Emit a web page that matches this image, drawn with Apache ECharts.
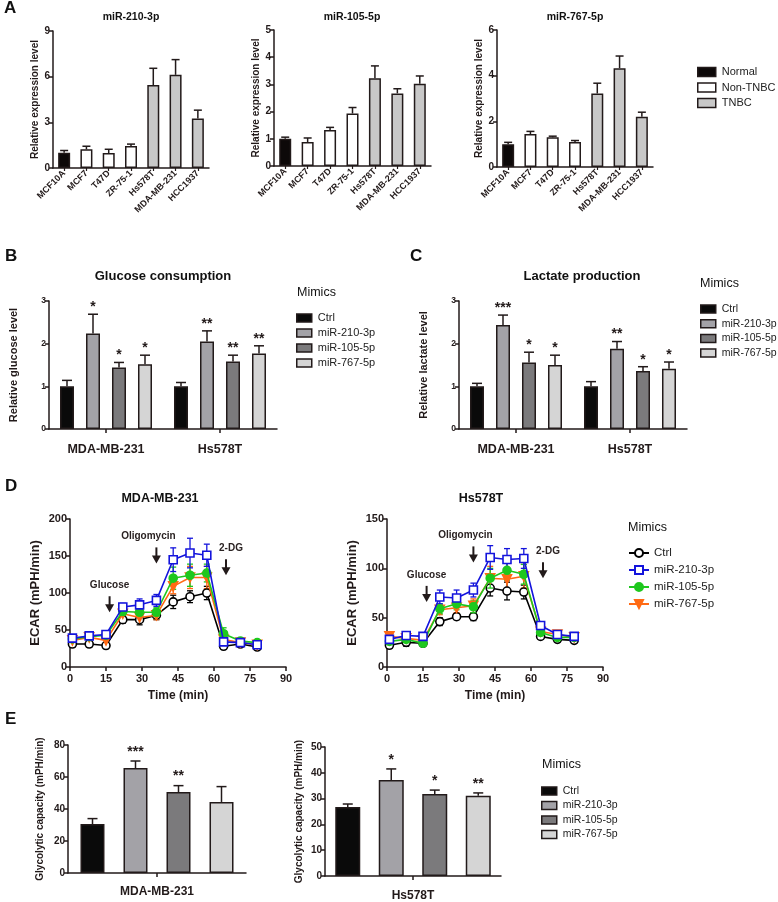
<!DOCTYPE html>
<html><head><meta charset="utf-8">
<script src="https://cdn.jsdelivr.net/npm/echarts@6/dist/echarts.min.js"></script>
<style>html,body{margin:0;padding:0;background:#fff}#c{width:778px;height:902px}</style>
</head><body><div id="c"></div>
<script>
// ---------------- DATA ----------------
// Panel A
const aCategories = ['MCF10A','MCF7','T47D','ZR-75-1','Hs578T','MDA-MB-231','HCC1937'];
const aGroupOf = ['Normal','Non-TNBC','Non-TNBC','Non-TNBC','TNBC','TNBC','TNBC'];
const aGroupNames = ['Normal','Non-TNBC','TNBC'];
const aMiRNAs = ['miR-210-3p','miR-105-5p','miR-767-5p'];
const a210Values = [1.0,1.23,0.98,1.45,5.45,6.12,3.25];
const a210Errors = [0.15,0.2,0.25,0.12,1.1,1.0,0.55];
const a105Values = [1.0,0.88,1.32,1.93,3.23,2.67,3.02];
const a105Errors = [0.06,0.15,0.1,0.22,0.45,0.17,0.29];
const a767Values = [1.0,1.44,1.3,1.1,3.22,4.33,2.2];
const a767Errors = [0.08,0.12,0.05,0.06,0.45,0.53,0.2];
const aYMax = [9,5,6];
const aYInterval = [3,1,2];

// Panels B, C, E
const mimics = ['Ctrl','miR-210-3p','miR-105-5p','miR-767-5p'];
const cellLines = ['MDA-MB-231','Hs578T'];
const glucoseMeans  = [[1.0,1.0],[2.24,2.05],[1.44,1.58],[1.52,1.77]];
const glucoseErrors = [[0.14,0.09],[0.45,0.25],[0.12,0.15],[0.21,0.18]];
const glucoseStars  = [['',''],['*','**'],['*','**'],['*','**']];
const lactateMeans  = [[1.0,1.0],[2.44,1.88],[1.56,1.36],[1.5,1.41]];
const lactateErrors = [[0.07,0.11],[0.23,0.17],[0.24,0.1],[0.23,0.16]];
const lactateStars  = [['',''],['***','**'],['*','*'],['*','*']];
const capacityMDA = [30.6,65.6,50.6,44.4];
const capacityMDAErr = [3.4,4.4,4.0,9.6];
const capacityMDAStars = ['','***','**',''];
const capacityHs = [26.7,37.2,31.8,31.1];
const capacityHsErr = [1.2,4.3,1.5,1.1];
const capacityHsStars = ['','*','*','**'];

// Panel D
const timePoints = [1,8,15,22,29,36,43,50,57,64,71,78];
const ecarMDA = [
  [31,31,29,64,64,70,88,95,100,28,31,27],
  [39,42,44,81,84,90,145,154,151,34,33,30],
  [38,41,43,75,74,74,120,124,127,45,35,33],
  [36,40,36,72,67,70,109,121,121,37,33,30]];
const ecarMDAErr = [
  [4,4,4,5,7,6,9,8,9,3,3,3],
  [4,4,4,5,8,8,16,20,15,4,4,3],
  [3,3,3,5,6,6,15,15,12,8,4,3],
  [3,3,5,5,6,6,10,15,15,4,3,3]];
const ecarHs = [
  [22,25,24,46,51,51,80,77,76,31,28,27],
  [28,32,31,71,70,78,111,109,110,42,33,31],
  [26,28,24,59,64,61,90,98,94,35,30,30],
  [31,29,27,58,60,62,90,89,92,36,33,30]];
const ecarHsErr = [
  [3,4,3,4,3,4,8,9,7,3,2,2],
  [3,3,3,7,8,7,12,11,10,3,2,2],
  [3,3,3,5,6,6,10,10,10,3,3,2],
  [3,3,3,5,5,7,12,10,12,3,3,3]];
const injections = ['Glucose','Oligomycin','2-DG'];
const injectionTimes = [16.5,36,65];
const arrowTipMDA = [74,140,124];
const arrowTipHs = [66,106,90];

// ---------------- STYLE ----------------
const FONT = "'Liberation Sans', Arial, Helvetica, sans-serif";
const INK = '#221a1a';
const aGroupColors = ['#0d0909','#ffffff','#c8c8c8'];
const mimicColors = ['#0a0a0a','#a3a2a7','#7b7a7c','#d5d5d5'];
const lineColors = ['#000000','#1414dc','#1ec81e','#ff6a14'];
const lineSymbols = ['circle','rect','circle','triangle'];
const labelShift = [0,-8,5];

const grids = [
  {left:53, top:31, width:156, height:137},
  {left:274, top:30, width:157, height:136},
  {left:497, top:30, width:156, height:137},
  {left:49, top:301, width:228, height:128},
  {left:459, top:301, width:228, height:128},
  {left:70, top:519, width:216, height:148},
  {left:387, top:519, width:216, height:148},
  {left:68, top:745, width:178, height:128},
  {left:325, top:747, width:176, height:129}
];

const axisLine = {show:true, lineStyle:{color:INK, width:1.5}};
const axisTick = {show:true, length:4, lineStyle:{color:INK, width:1.5}};

function yAx(gi, max, interval, name, nameGap, nameSize, labelSize) {
  return {type:'value', gridIndex:gi, min:0, max, interval, splitLine:{show:false},
    axisLine, axisTick,
    axisLabel:{fontFamily:FONT, fontWeight:'bold', fontSize:labelSize, color:INK, margin:3},
    name, nameLocation:'middle', nameGap,
    nameTextStyle:{fontFamily:FONT, fontWeight:'bold', fontSize:nameSize, color:INK}};
}
function xCat(gi, data, opts) {
  return Object.assign({type:'category', gridIndex:gi, data, axisLine,
    axisTick:{show:true, alignWithLabel:true, length:4, lineStyle:{color:INK, width:1.5}},
    splitLine:{show:false}}, opts);
}

const xAxes = [], yAxes = [], series = [];

// ---- Panel A
const aValues = [a210Values, a105Values, a767Values];
const aErrors = [a210Errors, a105Errors, a767Errors];
aMiRNAs.forEach((mi, k) => {
  xAxes.push(xCat(k, aCategories, {
    axisTick:{show:true, alignWithLabel:true, length:3, lineStyle:{color:INK, width:1.2}},
    axisLabel:{rotate:45, interval:0, fontFamily:FONT, fontWeight:'bold', fontSize:9, color:INK, margin:4}}));
  yAxes.push(yAx(k, aYMax[k], aYInterval[k], 'Relative expression level', 13, 10, 10));
});

function barErrorSeries(ai, data, offset, stars, cap, starFont, starGap) {
  return {type:'custom', xAxisIndex:ai, yAxisIndex:ai, data, z:5, silent:true,
    renderItem(params, api) {
      const x = api.value(0), v = api.value(1), e = api.value(2);
      const p0 = api.coord([x, v]), p1 = api.coord([x, v + e]);
      const cx = p0[0] + offset;
      const st = {stroke:INK, lineWidth:1.5};
      const ch = [
        {type:'line', shape:{x1:cx, y1:p0[1], x2:cx, y2:p1[1]}, style:st},
        {type:'line', shape:{x1:cx-cap, y1:p1[1], x2:cx+cap, y2:p1[1]}, style:st}];
      const s = stars && stars[params.dataIndex];
      if (s) ch.push({type:'text', x:cx, y:p1[1]-starGap,
        style:{text:s, font:starFont, fill:INK, textAlign:'center', textVerticalAlign:'middle'}});
      return {type:'group', children:ch};
    }};
}

aMiRNAs.forEach((mi, k) => {
  aGroupNames.forEach((g, gi) => {
    series.push({type:'bar', name:g, xAxisIndex:k, yAxisIndex:k, barWidth:12, barGap:'-100%',
      data: aValues[k].map((v, i) => aGroupOf[i] === g ? v : '-'),
      itemStyle:{color:aGroupColors[gi], borderColor:INK, borderWidth:1.5}});
  });
  series.push(barErrorSeries(k, aCategories.map((c, i) => [i, aValues[k][i], aErrors[k][i]]), 0, null, 4, '', 0));
});

// ---- Panels B and C
function groupedBars(ai, means, errs, stars, barWidth, spacing, cap, starFont, starGap) {
  const gap = ((spacing - barWidth) / barWidth * 100).toFixed(1) + '%';
  mimics.forEach((m, j) => {
    series.push({type:'bar', name:m, xAxisIndex:ai, yAxisIndex:ai, barWidth, barGap:gap,
      data: means[j], itemStyle:{color:mimicColors[j], borderColor:INK, borderWidth:1.5}});
  });
  mimics.forEach((m, j) => {
    series.push(barErrorSeries(ai, means[j].map((v, i) => [i, v, errs[j][i]]),
      (j - 1.5) * spacing, stars[j], cap, starFont, starGap));
  });
}
[3, 4].forEach(gi => {
  xAxes.push(xCat(gi, cellLines, {axisLabel:{fontFamily:FONT, fontWeight:'bold', fontSize:12.5, color:INK, margin:14}}));
});
yAxes.push(yAx(3, 3, 1, 'Relative glucose level', 30, 11, 8.5));
yAxes.push(yAx(4, 3, 1, 'Relative lactate level', 30, 11, 8.5));
groupedBars(3, glucoseMeans, glucoseErrors, glucoseStars, 14, 26, 5, 'bold 14px ' + FONT, 7);
groupedBars(4, lactateMeans, lactateErrors, lactateStars, 14, 26, 5, 'bold 14px ' + FONT, 7);

// ---- Panel D
[5, 6].forEach(gi => {
  xAxes.push({type:'value', gridIndex:gi, min:0, max:90, interval:15, splitLine:{show:false},
    axisLine, axisTick,
    axisLabel:{fontFamily:FONT, fontWeight:'bold', fontSize:11, color:INK, margin:6},
    name:'Time (min)', nameLocation:'middle', nameGap:23,
    nameTextStyle:{fontFamily:FONT, fontWeight:'bold', fontSize:12, color:INK}});
});
yAxes.push(yAx(5, 200, 50, 'ECAR (mPH/min)', 28, 13, 11));
yAxes.push(yAx(6, 150, 50, 'ECAR (mPH/min)', 28, 13, 11));

function ecar(ai, means, errs) {
  const order = [0, 3, 2, 1];
  order.forEach((j, rank) => {
    const col = lineColors[j];
    series.push({type:'custom', xAxisIndex:ai, yAxisIndex:ai, z:2 + rank, silent:true,
      data: timePoints.map((t, i) => [t, means[j][i], errs[j][i]]),
      renderItem(params, api) {
        const t = api.value(0), v = api.value(1), e = api.value(2);
        const a = api.coord([t, v + e]), b = api.coord([t, v - e]);
        const st = {stroke:col, lineWidth:1.3};
        return {type:'group', children:[
          {type:'line', shape:{x1:a[0], y1:a[1], x2:b[0], y2:b[1]}, style:st},
          {type:'line', shape:{x1:a[0]-3, y1:a[1], x2:a[0]+3, y2:a[1]}, style:st},
          {type:'line', shape:{x1:b[0]-3, y1:b[1], x2:b[0]+3, y2:b[1]}, style:st}]};
      }});
    series.push({type:'line', name:'ECAR ' + mimics[j], xAxisIndex:ai, yAxisIndex:ai, z:3 + rank,
      data: timePoints.map((t, i) => [t, means[j][i]]),
      symbol: lineSymbols[j], symbolSize: j === 3 ? 9 : 8, symbolRotate: j === 3 ? 180 : 0,
      showAllSymbol:true,
      lineStyle:{color:col, width:1.6},
      itemStyle:{color: j < 2 ? '#ffffff' : col, borderColor:col, borderWidth:1.6}});
  });
}
ecar(5, ecarMDA, ecarMDAErr);
ecar(6, ecarHs, ecarHsErr);

function arrows(ai, tips) {
  series.push({type:'custom', xAxisIndex:ai, yAxisIndex:ai, silent:true, z:10,
    data: injectionTimes.map((t, i) => [t, tips[i]]),
    renderItem(params, api) {
      const p = api.coord([api.value(0), api.value(1)]);
      const x = p[0], y = p[1], i = params.dataIndex;
      return {type:'group', children:[
        {type:'line', shape:{x1:x, y1:y-16, x2:x, y2:y-6}, style:{stroke:INK, lineWidth:2}},
        {type:'polygon', shape:{points:[[x-4.5, y-8],[x+4.5, y-8],[x, y]]}, style:{fill:INK}},
        {type:'text', x:x + labelShift[i], y:y-27,
          style:{text:injections[i], font:'bold 10px ' + FONT, fill:'#2a2222', textAlign:'center', textVerticalAlign:'middle'}}]};
    }});
}
arrows(5, arrowTipMDA);
arrows(6, arrowTipHs);

// ---- Panel E
xAxes.push(xCat(7, ['MDA-MB-231'], {axisLabel:{fontFamily:FONT, fontWeight:'bold', fontSize:12, color:INK, margin:13}}));
xAxes.push(xCat(8, ['Hs578T'], {axisLabel:{fontFamily:FONT, fontWeight:'bold', fontSize:12, color:INK, margin:14}}));
yAxes.push(yAx(7, 80, 20, 'Glycolytic capacity (mPH/min)', 23, 10, 10));
yAxes.push(yAx(8, 50, 10, 'Glycolytic capacity (mPH/min)', 21, 10, 10));
groupedBars(7, capacityMDA.map(v => [v]), capacityMDAErr.map(v => [v]), capacityMDAStars.map(s => [s]), 24, 43, 5, 'bold 14px ' + FONT, 9);
groupedBars(8, capacityHs.map(v => [v]), capacityHsErr.map(v => [v]), capacityHsStars.map(s => [s]), 25, 43.5, 5, 'bold 14px ' + FONT, 9);

// ---------------- LEGENDS ----------------
function barLegend(left, top, data, w, h, gap, fs) {
  return {orient:'vertical', left, top, padding:0, itemGap:gap, itemWidth:w, itemHeight:h,
    selectedMode:false, icon:'rect', data,
    itemStyle:{borderColor:INK, borderWidth:1.5},
    textStyle:{fontFamily:FONT, fontSize:fs, color:'#222', lineHeight:12, padding:[0,0,0,1]}};
}
const legends = [
  barLegend(697, 66, aGroupNames, 18, 9, 3.5, 11),
  barLegend(296, 312, mimics, 15, 8, 3, 11),
  barLegend(700, 303, mimics, 15, 8, 2.7, 10.5),
  {orient:'vertical', left:628, top:547, padding:0, itemGap:5, itemWidth:20, itemHeight:10,
    selectedMode:false, data: mimics.map(m => 'ECAR ' + m),
    formatter: n => n.replace(/^ECAR /, ''),
    textStyle:{fontFamily:FONT, fontSize:11.5, color:'#222', lineHeight:12}},
  barLegend(541, 785, mimics, 15, 8, 2.5, 10.5)
];

// ---------------- TEXTS ----------------
function txt(text, x, y, font, align) {
  return {type:'text', x, y, silent:true,
    style:{text, font, fill:'#111', textAlign:align || 'center', textVerticalAlign:'middle'}};
}
const B = 'bold ';
const graphics = [
  txt('A', 4, 8, B + '17px ' + FONT, 'left'),
  txt('B', 5, 256, B + '17px ' + FONT, 'left'),
  txt('C', 410, 256, B + '17px ' + FONT, 'left'),
  txt('D', 5, 486, B + '17px ' + FONT, 'left'),
  txt('E', 5, 719, B + '17px ' + FONT, 'left'),
  txt(aMiRNAs[0], 131, 17, B + '10.5px ' + FONT),
  txt(aMiRNAs[1], 352, 17, B + '10.5px ' + FONT),
  txt(aMiRNAs[2], 575, 17, B + '10.5px ' + FONT),
  txt('Glucose consumption', 163, 276, B + '13px ' + FONT),
  txt('Lactate production', 582, 276, B + '13px ' + FONT),
  txt('MDA-MB-231', 160, 499, B + '12.5px ' + FONT),
  txt('Hs578T', 481, 499, B + '12.5px ' + FONT),
  txt('Mimics', 297, 293, '12.5px ' + FONT, 'left'),
  txt('Mimics', 700, 284, '12.5px ' + FONT, 'left'),
  txt('Mimics', 628, 528, '12.5px ' + FONT, 'left'),
  txt('Mimics', 542, 765, '12.5px ' + FONT, 'left')
];

const chart = echarts.init(document.getElementById('c'), null, {renderer:'canvas'});
chart.setOption({
  animation:false,
  backgroundColor:'#ffffff',
  grid:grids, xAxis:xAxes, yAxis:yAxes, series, legend:legends, graphic:graphics
});
</script></body></html>
